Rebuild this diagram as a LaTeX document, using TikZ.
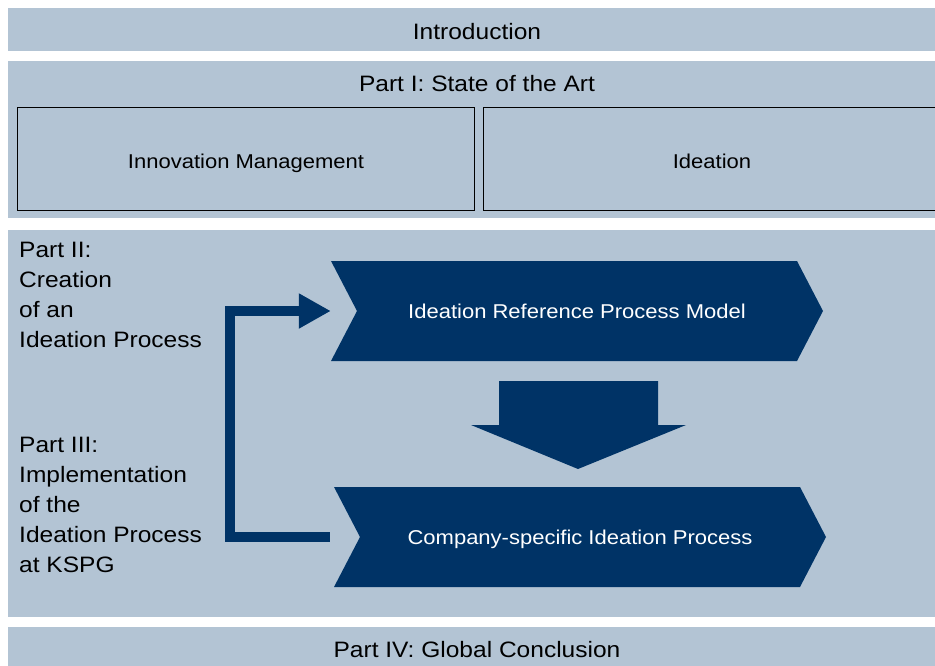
\documentclass[tikz,border=0pt]{standalone}
\usepackage{fontspec}
\setmainfont{Liberation Sans}[FakeStretch=1.1]
\usetikzlibrary{arrows.meta}

\definecolor{bandblue}{RGB}{179,196,212}
\definecolor{navy}{RGB}{0,51,102}

\begin{document}
\begin{tikzpicture}[x=1pt,y=-1pt,
	band/.style={fill=bandblue,inner sep=0pt,anchor=north west,minimum width=938pt},
	title/.style={anchor=base,inner sep=0pt,font=\fontsize{22.3}{27}\selectfont},
	topic/.style={draw,line width=1pt,inner sep=0pt,anchor=north west,minimum width=457pt,minimum height=103pt,text height=20pt,text depth=0pt,font=\fontsize{20}{24}\selectfont},
	side/.style={anchor=north west,inner sep=0pt,align=left,font=\fontsize{22.3}{30}\selectfont},
	stage/.style={inner sep=0pt,minimum width=492pt,minimum height=100pt,text height=14.4pt,text depth=0pt,text=white,font=\fontsize{20}{24}\selectfont,
		path picture={\fill[navy] (path picture bounding box.north west) -- ([xshift=-26pt]path picture bounding box.north east) -- (path picture bounding box.east) -- ([xshift=-26pt]path picture bounding box.south east) -- (path picture bounding box.south west) -- ([xshift=26pt]path picture bounding box.west) -- cycle;}},
	feedback/.style={draw=navy,line width=10pt,-{Triangle[length=32pt,width=33pt]}}]
	\useasboundingbox (0,0) rectangle (935,666);
	% bands
	\node[band,minimum height=43pt] (intro) at (8,8) {};
	\node[band,minimum height=157pt] (part1) at (8,61) {};
	\node[band,minimum height=387pt] (part23) at (8,230) {};
	\node[band,minimum height=50pt] (part4) at (8,627) {};
	\node[title] (introtitle) at (477,39.5) {Introduction};
	\node[title] (part1title) at (477,92) {Part I: State of the Art};
	\node[title] (part4title) at (477,657) {Part IV: Global Conclusion};
	% state of the art
	\node[topic] (innomgmt) at (17,107) {Innovation Management};
	\node[topic] (ideation) at (483,107) {Ideation};
	% parts II and III
	\node[side] (part2text) at (19,242.3) {Part II:\\Creation\\of an\\Ideation Process};
	\node[side] (part3text) at (19,437) {Part III:\\Implementation\\of the\\Ideation Process\\at KSPG};
	\node[stage] (refmodel) at (577,311) {Ideation Reference Process Model};
	\node[stage] (implproc) at (580,537) {Company-specific Ideation Process};
	\fill[navy] (499,381) -- (658,381) -- (658,425) -- (686,425) -- (578,469) -- (471,425) -- (499,425) -- cycle;
	\draw[feedback] ([xshift=-4pt]implproc.west) -- ++(-100,0) |- (refmodel.west);
\end{tikzpicture}
\end{document}
